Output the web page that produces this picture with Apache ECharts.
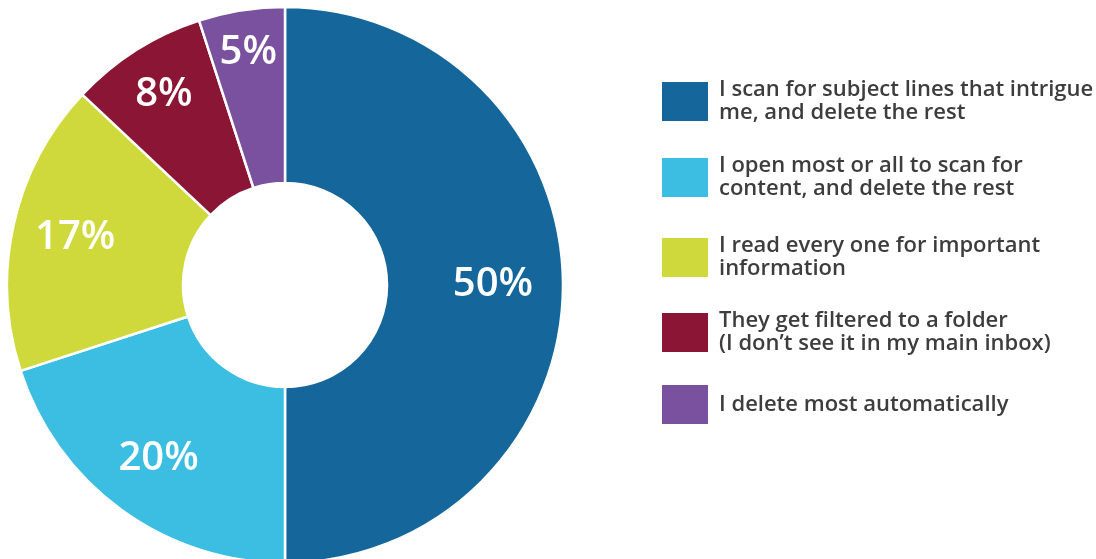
<!DOCTYPE html>
<html>
<head>
<meta charset="utf-8">
<script src="https://cdn.jsdelivr.net/npm/echarts@6/dist/echarts.min.js"></script>
<style>
  html, body { margin: 0; padding: 0; background: #fff; }
  #chart { width: 1096px; height: 559px; }
</style>
</head>
<body>
<div id="chart"></div>
<script>
// Survey answers: how people handle marketing emails
const categories = [
  'I scan for subject lines that intrigue\nme, and delete the rest',
  'I open most or all to scan for\ncontent, and delete the rest',
  'I read every one for important\ninformation',
  'They get filtered to a folder\n(I don\u2019t see it in my main inbox)',
  'I delete most automatically'
];
const shares = [50, 20, 17, 8, 5];
const colors = ['#15679b', '#3bbee2', '#d0d93c', '#8a1535', '#7a519e'];

// vertical position of each legend row
const legendTops = [78.5, 154.5, 234.5, 309.5, 383];
// how far each percentage label is pushed outward from the ring's middle
const labelPush = [15, 22, 22, 33, 42];

const CX = 285, CY = 285;

const option = {
  animation: false,
  color: colors,
  legend: legendTops.map((top, i) => ({
    data: [categories[i]],
    left: 660,
    top: top,
    padding: 0,
    orient: 'vertical',
    icon: 'rect',
    itemWidth: 48,
    itemHeight: 41,
    selectedMode: false,
    textStyle: {
      color: '#3d3d3d',
      fontFamily: 'Open Sans',
      fontWeight: 600,
      fontSize: 22,
      lineHeight: 23,
      padding: [0, 0, 0, 5]
    }
  })),
  series: [
    {
      type: 'pie',
      center: [CX, CY],
      radius: [102, 278],
      startAngle: 90,
      clockwise: true,
      silent: true,
      itemStyle: { borderColor: '#ffffff', borderWidth: 2.5 },
      label: {
        show: true,
        position: 'inside',
        formatter: p => p.value + '%',
        color: '#ffffff',
        fontFamily: 'Open Sans',
        fontWeight: 600,
        fontSize: 40
      },
      labelLine: { show: false },
      labelLayout: function (params) {
        const r = params.labelRect;
        const mx = r.x + r.width / 2 - CX;
        const my = r.y + r.height / 2 - CY;
        const len = Math.sqrt(mx * mx + my * my) || 1;
        const push = labelPush[params.dataIndex];
        return { dx: push * mx / len, dy: push * my / len };
      },
      data: categories.map((name, i) => ({
        name: name,
        value: shares[i],
        itemStyle: { color: colors[i] }
      }))
    }
  ]
};

const chart = echarts.init(document.getElementById('chart'));
chart.setOption(option);
</script>
</body>
</html>
